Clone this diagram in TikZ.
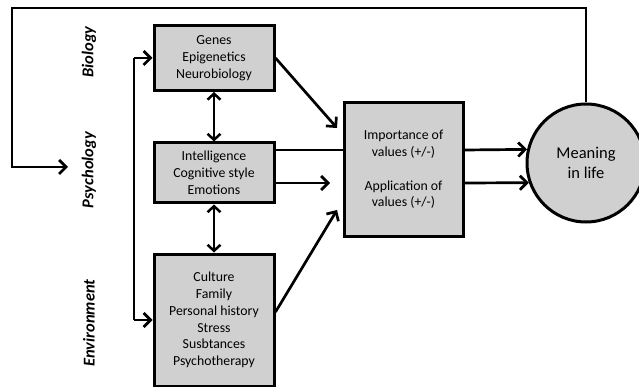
\documentclass[tikz,border=0pt]{standalone}
\usepackage{fontspec}
\setmainfont{Carlito}
\usetikzlibrary{arrows.meta}
\definecolor{boxgray}{RGB}{208,208,208}
\begin{document}
\begin{tikzpicture}[x=1pt,y=-1pt,
  box/.style={draw=black,line width=3pt,fill=boxgray,inner sep=0pt,align=center,
    font=\fontsize{13.8}{16.8}\selectfont},
  conn/.style={line width=2.7pt},
  arr/.style={conn,-{Straight Barb[length=7pt,width=14pt,line width=2.7pt]}},
  darr/.style={conn,{Straight Barb[length=6pt,width=13pt,line width=2.5pt]}-{Straight Barb[length=6pt,width=13pt,line width=2.5pt]}},
  side/.style={rotate=90,font=\fontsize{16.5}{18}\selectfont\bfseries\itshape}]
\useasboundingbox (0,0) rectangle (639,387);
\node[box,minimum width=120pt,minimum height=65pt] (bio) at (214,58) {Genes\\Epigenetics\\Neurobiology};
\node[box,minimum width=120pt,minimum height=60pt] (psy) at (214,173) {Intelligence\\Cognitive style\\Emotions};
\node[box,minimum width=120pt,minimum height=132pt] (env) at (214,320) {Culture\\Family\\Personal history\\Stress\\Susbtances\\Psychotherapy};
\node[box,minimum width=119pt,minimum height=133pt] (val) at (403.5,169.5) {Importance of\\values (+/-)\\[16.8pt]Application of\\values (+/-)};
\node[circle,draw=black,line width=3pt,fill=boxgray,minimum size=118pt,inner sep=0pt,align=center,
  font=\fontsize{16.5}{20}\selectfont] (mil) at (586,163) {Meaning\\in life};
\node[side] (lbio) at (89,52) {Biology};
\node[side] (lpsy) at (89,170) {Psychology};
\node[side] (lenv) at (89,323) {Environment};
% feedback loop
\coordinate (fb1) at (586,8);
\coordinate (fb2) at (12,8);
\coordinate (fb3) at (12,167);
\coordinate (fbend) at (68,167);
\draw[arr] (mil.north) -- (fb1) -- (fb2) -- (fb3) -- (fbend);
% left bracket
\coordinate (brt) at (134,58);
\coordinate (brb) at (134,320);
\draw[conn] (brt) -- (brb);
\draw[arr] (brt) -- (bio.west);
\draw[arr] (brb) -- (env.west);
% double arrows
\draw[darr] (bio.south) -- (psy.north);
\draw[darr] (psy.south) -- (env.north);
% to values
\coordinate (bioend) at (337,128);
\draw[arr] (bio.east) -- (bioend);
\draw[conn] (psy.east |- 0,150) -- (val.west |- 0,150);
\coordinate (psyend) at (330,183);
\draw[arr] (psy.east |- 0,183) -- (psyend);
\coordinate (envend) at (337,210);
\draw[arr] (env.east |- 0,312) -- (envend);
% to meaning
\draw[arr] (val.east |- 0,150) -- (mil.{180-12.7});
\draw[arr] (val.east |- 0,183) -- (mil.{180+19.8});
\end{tikzpicture}
\end{document}
